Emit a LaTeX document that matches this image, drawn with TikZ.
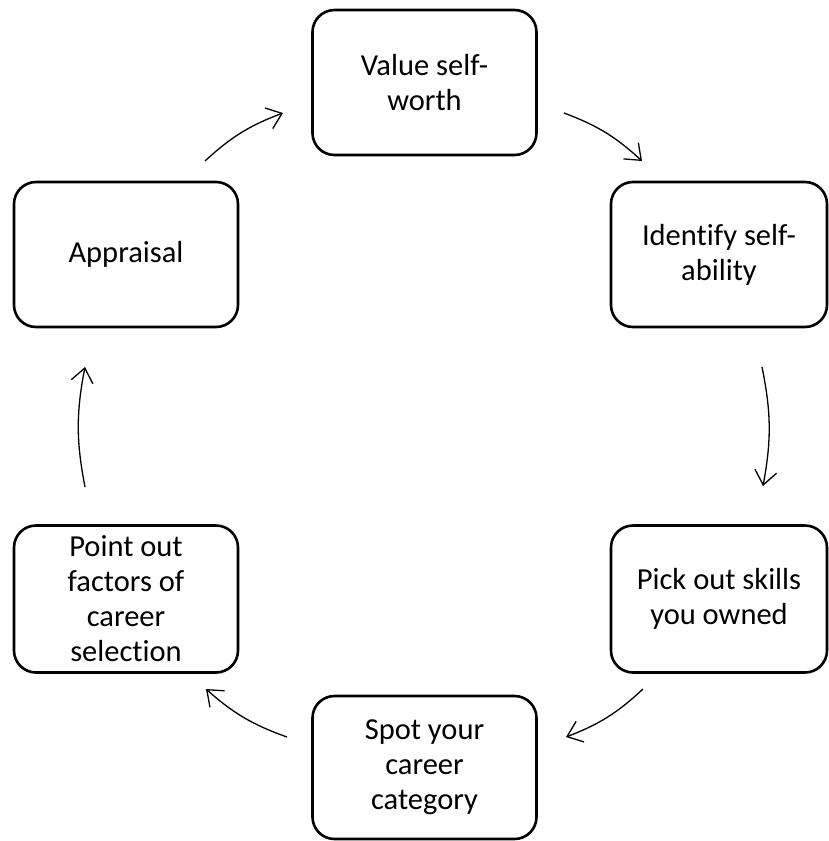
\documentclass[tikz,border=0pt]{standalone}
\usepackage{fontspec}
\setmainfont{Carlito}[Ligatures=CommonOff]
\usetikzlibrary{arrows.meta}
\begin{document}
\begin{tikzpicture}[x=1pt,y=1pt,
  stepbox/.style={draw, line width=2.6pt, rounded corners=22pt, minimum width=224pt,
    minimum height=145pt, align=center, inner sep=0pt,
    font=\fontsize{30.5}{35}\selectfont},
  flow/.style={line width=1.3pt, bend left=11,
    -{Straight Barb[length=14pt,width=22pt,line width=1.3pt]}}]
\useasboundingbox (0,0) rectangle (828,-841);
\node[stepbox] (value) at (424.5,-82.5) {Value self-\\worth};
\node[stepbox, minimum width=216pt] (identify) at (719,-254.5) {Identify self-\\ability};
\node[stepbox, minimum width=216pt, minimum height=147pt] (pick) at (719,-599) {Pick out skills\\you owned};
\node[stepbox, minimum height=143pt] (spot) at (424.5,-767.5) {Spot your\\career\\category};
\node[stepbox, minimum height=147pt] (point) at (126,-599) {Point out\\factors of\\career\\selection};
\node[stepbox] (appraisal) at (126,-254.5) {Appraisal};
\coordinate (a1) at (205,-161); \coordinate (b1) at (283,-113);
\coordinate (a2) at (564,-113); \coordinate (b2) at (642,-161);
\coordinate (a3) at (762,-367); \coordinate (b3) at (763,-486);
\coordinate (a4) at (643,-689); \coordinate (b4) at (566,-737);
\coordinate (a5) at (287,-737); \coordinate (b5) at (206,-689);
\coordinate (a6) at (85,-487);  \coordinate (b6) at (85,-367);
\draw[flow] (a1) to (b1);
\draw[flow] (a2) to (b2);
\draw[flow] (a3) to (b3);
\draw[flow] (a4) to (b4);
\draw[flow] (a5) to (b5);
\draw[flow] (a6) to (b6);
\end{tikzpicture}
\end{document}
